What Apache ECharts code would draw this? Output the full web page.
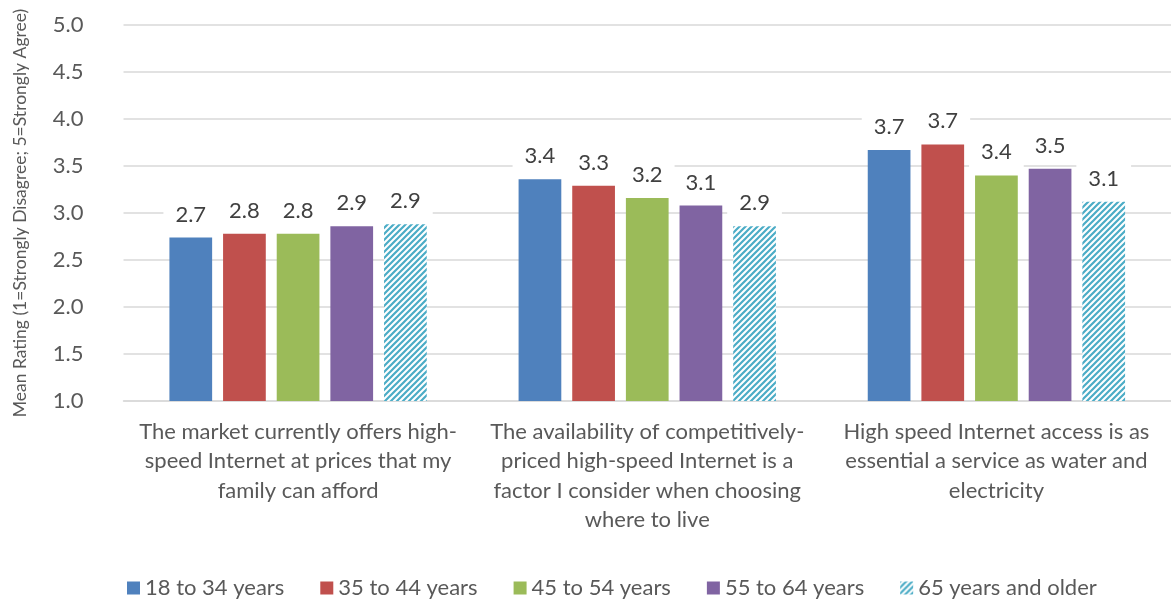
<!DOCTYPE html>
<html>
<head>
<meta charset="utf-8">
<script src="https://cdn.jsdelivr.net/npm/echarts@6/dist/echarts.min.js"></script>
<style>
  html, body { margin: 0; padding: 0; background: #fff; }
  #chart { width: 1171px; height: 602px; }
</style>
</head>
<body>
<div id="chart"></div>
<script>
// Survey statements (x-axis categories, pre-wrapped)
const categories = [
  'The market currently offers high-\nspeed Internet at prices that my\nfamily can afford',
  'The availability of competitively-\npriced high-speed Internet is a\nfactor I consider when choosing\nwhere to live',
  'High speed Internet access is as\nessential a service as water and\nelectricity'
];

// Age groups (legend entries)
const ageGroups = ['18 to 34 years', '35 to 44 years', '45 to 54 years', '55 to 64 years', '65 years and older'];

// Mean rating per statement for each age group
const age18to34 = [2.74, 3.36, 3.67];
const age35to44 = [2.78, 3.29, 3.73];
const age45to54 = [2.78, 3.16, 3.40];
const age55to64 = [2.86, 3.08, 3.47];
const age65plus = [2.88, 2.86, 3.12];

// Y-axis range and step
const yMin = 1.0;
const yMax = 5.0;
const yStep = 0.5;

const yAxisTitle = 'Mean Rating (1=Strongly Disagree; 5=Strongly Agree)';

const seriesValues = [age18to34, age35to44, age45to54, age55to64, age65plus];

// Diagonal hatch fill for the oldest age group
function makeHatch(color) {
  const s = 6;
  const c = document.createElement('canvas');
  c.width = s; c.height = s;
  const ctx = c.getContext('2d');
  ctx.fillStyle = '#ffffff';
  ctx.fillRect(0, 0, s, s);
  ctx.strokeStyle = color;
  ctx.lineWidth = 2.2;
  ctx.beginPath();
  ctx.moveTo(-1, s + 1); ctx.lineTo(s + 1, -1);
  ctx.moveTo(-1, 1); ctx.lineTo(1, -1);
  ctx.moveTo(s - 1, s + 1); ctx.lineTo(s + 1, s - 1);
  ctx.stroke();
  return { image: c, repeat: 'repeat' };
}

const FONT = 'Lato';
const colors = ['#4F81BD', '#C0504D', '#9BBB59', '#8064A2', makeHatch('#4BACC6')];

const chart = echarts.init(document.getElementById('chart'), null, { renderer: 'canvas' });

const series = ageGroups.map((name, i) => ({
  name: name,
  type: 'bar',
  data: seriesValues[i],
  barGap: '25.6%',
  barCategoryGap: '26.3%',
  itemStyle: { color: colors[i] },
  label: {
    show: true,
    position: 'top',
    distance: 8,
    formatter: p => p.value.toFixed(1),
    color: '#404040',
    fontFamily: FONT,
    fontSize: 22,
    lineHeight: 26,
    backgroundColor: '#ffffff',
    padding: [2, 12]
  }
}));

chart.setOption({
  animation: false,
  textStyle: { fontFamily: FONT },
  grid: { left: 123.5, right: -7, top: 25, bottom: 201, containLabel: false },
  legend: {
    data: ageGroups,
    bottom: -2,
    left: 122,
    icon: 'rect',
    itemWidth: 13,
    itemHeight: 13,
    itemGap: 36,
    textStyle: { color: '#595959', fontFamily: FONT, fontSize: 22 }
  },
  xAxis: {
    type: 'category',
    data: categories,
    axisLine: { show: true, lineStyle: { color: '#d9d9d9', width: 1.5 } },
    axisTick: { show: false },
    axisLabel: {
      interval: 0,
      margin: 16,
      color: '#595959',
      fontFamily: FONT,
      fontSize: 22,
      lineHeight: 29.5,
      align: 'center'
    }
  },
  yAxis: {
    type: 'value',
    min: yMin,
    max: yMax,
    interval: yStep,
    name: yAxisTitle,
    nameLocation: 'middle',
    nameRotate: 90,
    nameGap: 94,
    nameTextStyle: { color: '#595959', fontFamily: FONT, fontSize: 17.5 },
    axisLine: { show: false },
    axisTick: { show: false },
    axisLabel: {
      margin: 40,
      color: '#595959',
      fontFamily: FONT,
      fontSize: 22,
      formatter: v => v.toFixed(1)
    },
    splitLine: { lineStyle: { color: '#d9d9d9', width: 1.5 } }
  },
  series: series
});
</script>
</body>
</html>
